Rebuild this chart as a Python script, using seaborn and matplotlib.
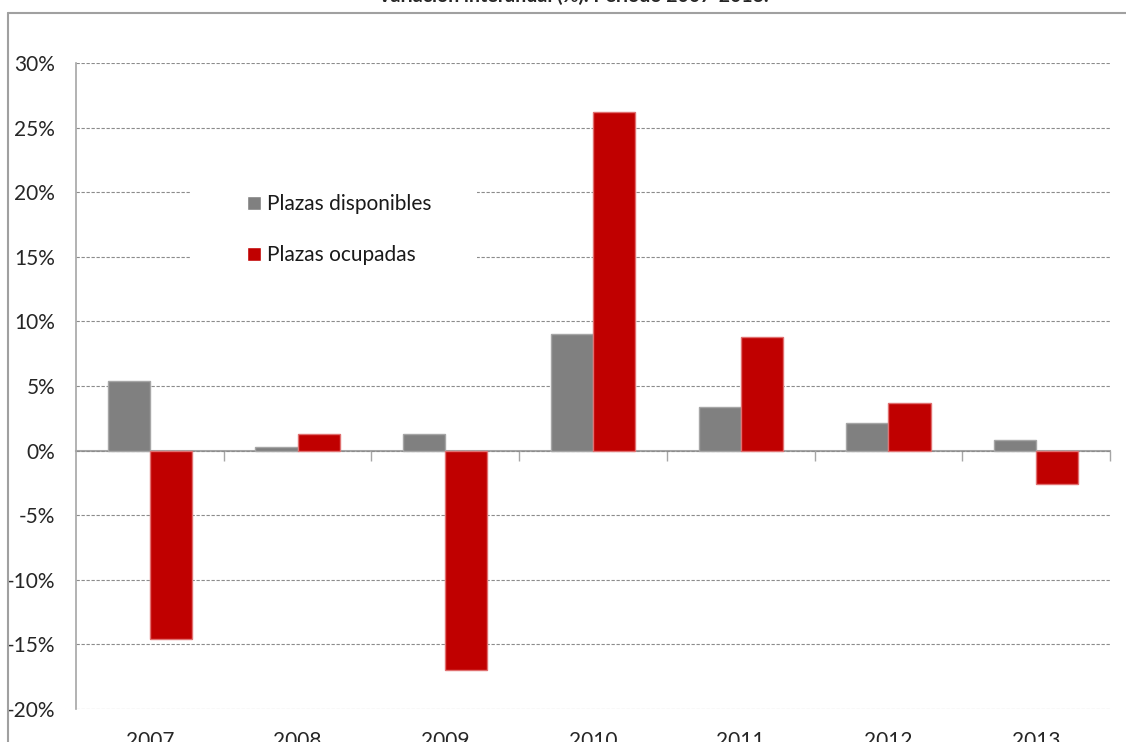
import matplotlib.pyplot as plt
import pandas as pd
import seaborn as sns
from matplotlib.lines import Line2D
from matplotlib.patches import Rectangle
from matplotlib.ticker import FuncFormatter, MultipleLocator

years = ['2007', '2008', '2009', '2010', '2011', '2012', '2013']
disponibles = [5.4, 0.25, 1.3, 9.05, 3.35, 2.1, 0.8]
ocupadas = [-14.6, 1.3, -17.0, 26.2, 8.8, 3.65, -2.6]
series = ['Plazas disponibles', 'Plazas ocupadas']
colors = ['#808080', '#C00000']
edges = ['#A6A6A6', '#E07070']
title = 'Variación interanual (%). Periodo 2007-2013.'

df = pd.DataFrame({
    'year': years * 2,
    'value': disponibles + ocupadas,
    'serie': [series[0]] * len(years) + [series[1]] * len(years),
})

sns.set_style('white')
plt.rcParams['font.family'] = ['Lato', 'DejaVu Sans']

fig = plt.figure(figsize=(11.26, 7.42), dpi=100)
ax = fig.add_axes([0.0675, 0.0445, 0.9183, 0.8706])

sns.barplot(data=df, x='year', y='value', hue='serie', palette=colors,
            width=0.57, saturation=1, ax=ax, zorder=3)
for cont, ec in zip(ax.containers, edges):
    for patch in cont:
        patch.set_edgecolor(ec)
        patch.set_linewidth(1)

ax.set_ylim(-20, 30)
ax.set_xlim(-0.5, len(years) - 0.5)
ax.yaxis.set_major_locator(MultipleLocator(5))
ax.yaxis.set_major_formatter(FuncFormatter(lambda v, p: f'{v:.0f}%'))
ax.grid(axis='y', color='#8C8C8C', linestyle=(0, (3, 1.5)), linewidth=0.8, zorder=0)
ax.set_axisbelow(True)
for s in ['top', 'right', 'bottom']:
    ax.spines[s].set_visible(False)
ax.spines['left'].set_color('#A6A6A6')
ax.spines['left'].set_linewidth(1.2)
ax.tick_params(axis='y', length=7, color='#A6A6A6', width=1, labelsize=15, pad=8)
ax.tick_params(axis='x', length=0, labelsize=15, pad=16)
ax.set_xlabel('')
ax.set_ylabel('')

# axis line at zero with ticks between the categories
zero = ax.secondary_xaxis(0.4)
zero.set_xticks([i + 0.5 for i in range(len(years))])
zero.set_xticklabels([])
zero.tick_params(length=7, color='#A6A6A6', width=1, direction='out')
zero.spines['bottom'].set_color('#A6A6A6')
zero.spines['bottom'].set_linewidth(1.5)

# white legend area that hides the gridlines
ax.add_patch(Rectangle((0.110, 0.683), 0.278, 0.136, transform=ax.transAxes,
                       facecolor='white', edgecolor='none', zorder=2))
leg = ax.legend(loc='upper left', bbox_to_anchor=(0.1654, 0.797), frameon=False,
                fontsize=15, handlelength=0.65, handleheight=0.65, handletextpad=0.3,
                labelspacing=1.5, borderpad=0, borderaxespad=0)
leg.set_zorder(5)
for t in leg.get_texts():
    t.set_color('#1a1a1a')

# chart frame
fig.add_artist(Line2D([0.0071, 1.0], [0.9825, 0.9825], color='#A0A0A0', lw=1.5))
fig.add_artist(Line2D([0.0071, 0.0071], [0.0, 0.9825], color='#A0A0A0', lw=1.5))
fig.text(0.509, 1.005, title, ha='center', va='center', fontsize=14, fontweight='bold')

fig.savefig('out.png', dpi=100)
